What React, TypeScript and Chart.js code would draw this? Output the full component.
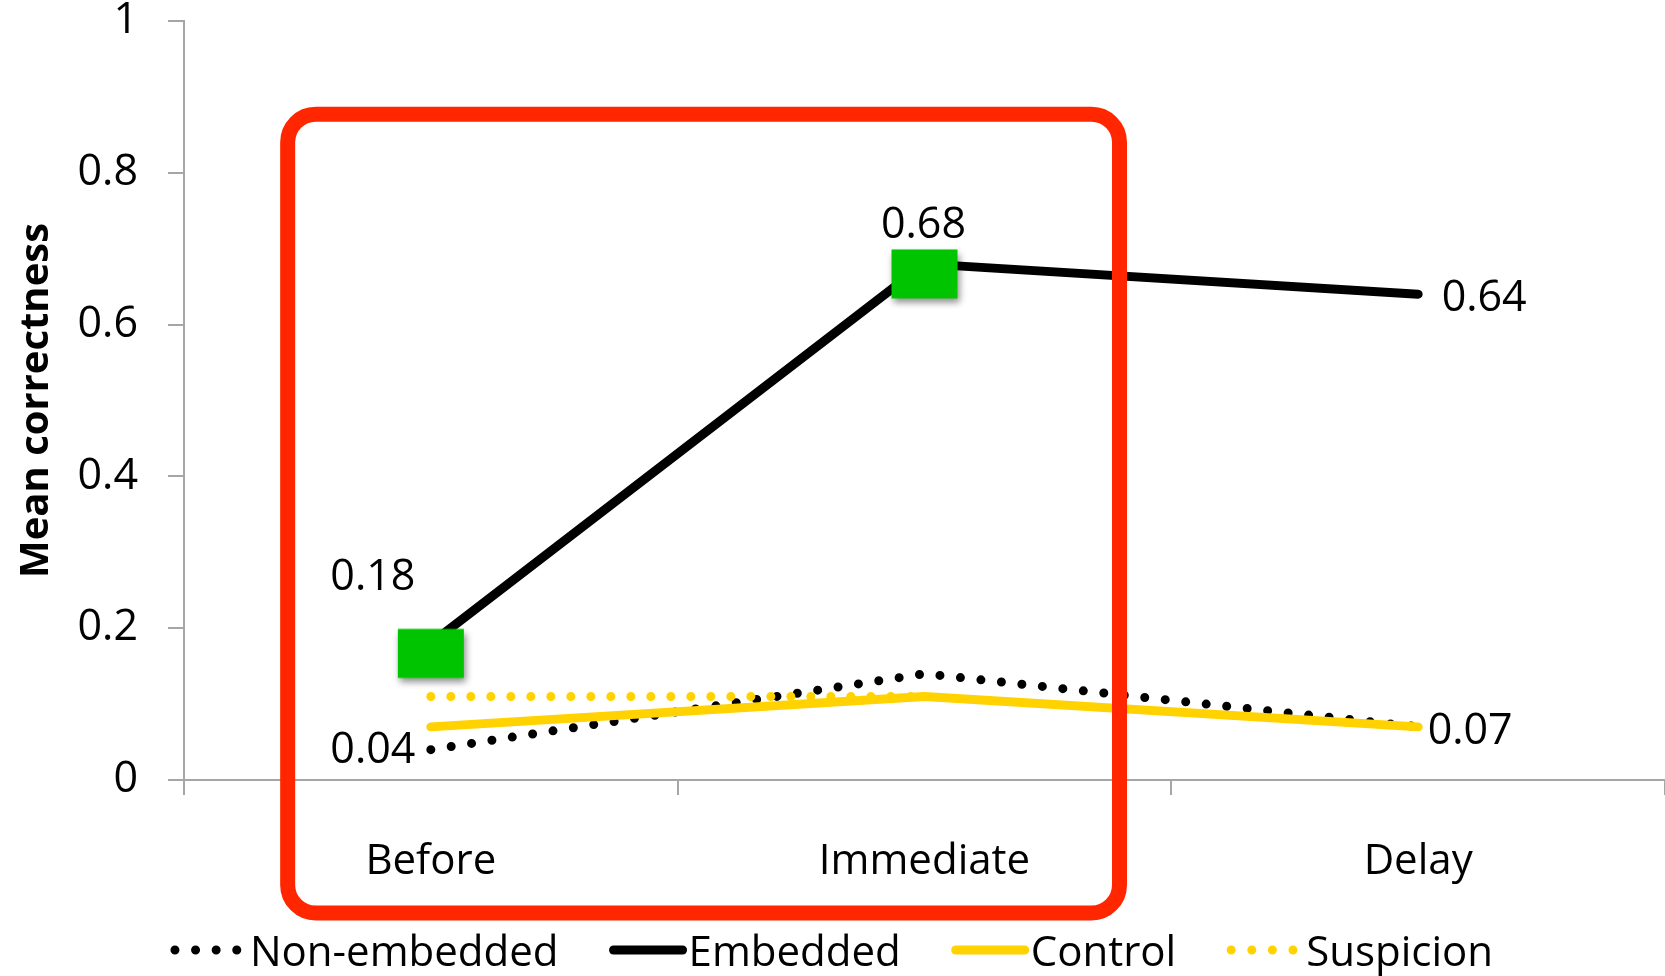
import React, { useEffect, useRef } from 'react';
import { Chart, registerables } from 'chart.js';

Chart.register(...registerables);

// ---- data ----
const categories = ['Before', 'Immediate', 'Delay'];
const seriesNames = ['Non-embedded', 'Embedded', 'Control', 'Suspicion'];
const nonEmbedded = [0.04, 0.14, 0.07];
const embedded = [0.18, 0.68, 0.64];
const control = [0.07, 0.11, 0.07];
const suspicion: (number | null)[] = [0.11, 0.11, null];
const yMin = 0;
const yMax = 1;
const yStep = 0.2;
const yTitle = 'Mean correctness';

// ---- styling ----
const FONT = '"Open Sans", "Noto Sans", sans-serif';
const BLACK = '#000000';
const YELLOW = '#FFD200';
const GREEN = '#00C400';
const RED = '#FF2600';
const AXIS = '#A6A6A6';
const W = 1665;
const H = 976;

// value labels: dataset index, point index, offset from the point
const valueLabels = [
  { ds: 1, i: 0, dx: -58, dy: -66 },
  { ds: 0, i: 0, dx: -58, dy: 1 },
  { ds: 1, i: 1, dx: -1, dy: -38 },
  { ds: 1, i: 2, dx: 66, dy: 5 },
  { ds: 2, i: 2, dx: 52, dy: 5 },
];

// legend sample styles, in legend order
const legendStyles = [
  { color: BLACK, dotted: true },
  { color: BLACK, dotted: false },
  { color: YELLOW, dotted: false },
  { color: YELLOW, dotted: true },
];

function makeMarker(): HTMLCanvasElement {
  const c = document.createElement('canvas');
  c.width = 90;
  c.height = 100;
  const g = c.getContext('2d')!;
  g.shadowColor = 'rgba(0,0,0,0.45)';
  g.shadowBlur = 7;
  g.shadowOffsetX = 2;
  g.shadowOffsetY = 4;
  g.fillStyle = GREEN;
  g.fillRect(12, 35.5, 66, 49);
  return c;
}

const valueLabelPlugin = {
  id: 'valueLabels',
  afterDatasetsDraw(chart: any) {
    const ctx = chart.ctx;
    ctx.save();
    ctx.font = `43px ${FONT}`;
    ctx.fillStyle = BLACK;
    ctx.textAlign = 'center';
    ctx.textBaseline = 'middle';
    const all = [nonEmbedded, embedded, control, suspicion];
    valueLabels.forEach((l) => {
      const pt = chart.getDatasetMeta(l.ds).data[l.i];
      const v = all[l.ds][l.i] as number;
      ctx.fillText(v.toFixed(2), pt.x + l.dx, pt.y + l.dy);
    });
    ctx.restore();
  },
};

const highlightPlugin = {
  id: 'highlightBox',
  afterDraw(chart: any) {
    const { ctx, chartArea, scales } = chart;
    const bin = (chartArea.right - chartArea.left) / categories.length;
    const left = scales.x.getPixelForValue(0) - 0.29 * bin;
    const right = scales.x.getPixelForValue(1) + 0.395 * bin;
    const top = scales.y.getPixelForValue(0.877);
    const bottom = chartArea.bottom + 133;
    ctx.save();
    ctx.strokeStyle = RED;
    ctx.lineWidth = 15;
    ctx.beginPath();
    ctx.roundRect(left, top, right - left, bottom - top, 28);
    ctx.stroke();
    ctx.restore();
  },
};

const legendPlugin = {
  id: 'lineLegend',
  afterDraw(chart: any) {
    const ctx = chart.ctx;
    ctx.save();
    ctx.font = `42px ${FONT}`;
    const sampleW = 74;
    const textGap = 4;
    const itemGap = 52;
    const widths = seriesNames.map((n) => sampleW + textGap + ctx.measureText(n).width);
    const total = widths.reduce((a, b) => a + b, 0) + itemGap * (seriesNames.length - 1);
    let x = (chart.width - total) / 2;
    const y = 954;
    seriesNames.forEach((name, k) => {
      const st = legendStyles[k];
      ctx.strokeStyle = st.color;
      ctx.lineWidth = 9;
      ctx.lineCap = 'round';
      ctx.beginPath();
      if (st.dotted) {
        ctx.setLineDash([0, 20.6]);
        ctx.moveTo(x + 3, y - 4);
        ctx.lineTo(x + 3 + 61.8, y - 4);
      } else {
        ctx.setLineDash([]);
        ctx.moveTo(x + 3, y - 4);
        ctx.lineTo(x + sampleW - 2, y - 4);
      }
      ctx.stroke();
      ctx.setLineDash([]);
      ctx.fillStyle = BLACK;
      ctx.textAlign = 'left';
      ctx.textBaseline = 'middle';
      ctx.fillText(name, x + sampleW + textGap, y);
      x += widths[k] + itemGap;
    });
    ctx.restore();
  },
};

export default function App() {
  const ref = useRef<HTMLCanvasElement | null>(null);

  useEffect(() => {
    if (!ref.current) return;
    const marker = makeMarker();
    Chart.defaults.font.family = FONT;
    Chart.defaults.color = BLACK;

    const chart = new Chart(ref.current, {
      type: 'line',
      data: {
        labels: categories,
        datasets: [
          {
            label: seriesNames[0],
            data: nonEmbedded,
            borderColor: BLACK,
            borderWidth: 9,
            borderDash: [0, 20.6],
            borderCapStyle: 'round',
            pointRadius: 0,
            order: 4,
          },
          {
            label: seriesNames[1],
            data: embedded,
            borderColor: BLACK,
            borderWidth: 9,
            borderCapStyle: 'round',
            borderJoinStyle: 'round',
            pointStyle: marker as any,
            pointRadius: [6, 6, 0],
            pointBorderWidth: 0,
            order: 3,
          },
          {
            label: seriesNames[2],
            data: control,
            borderColor: YELLOW,
            borderWidth: 9,
            borderCapStyle: 'round',
            borderJoinStyle: 'round',
            pointRadius: 0,
            order: 2,
          },
          {
            label: seriesNames[3],
            data: suspicion,
            borderColor: YELLOW,
            borderWidth: 9,
            borderDash: [0, 20],
            borderCapStyle: 'round',
            pointRadius: 0,
            order: 1,
          },
        ] as any,
      },
      options: {
        responsive: false,
        devicePixelRatio: 1,
        animation: false,
        events: [],
        layout: { autoPadding: false, padding: { top: 21, bottom: 56, left: 0, right: 0 } },
        plugins: {
          legend: { display: false },
          tooltip: { enabled: false },
          title: { display: false },
        },
        scales: {
          x: {
            offset: true,
            grid: {
              offset: true,
              drawOnChartArea: false,
              drawTicks: true,
              tickLength: 15,
              color: AXIS,
              lineWidth: 2,
            },
            border: { display: true, color: AXIS, width: 2 },
            ticks: {
              padding: 42,
              font: { size: 42, family: FONT, lineHeight: 1.2 },
              color: BLACK,
              maxRotation: 0,
            },
            afterFit: (s: any) => {
              s.height = 140;
              s.paddingLeft = 0;
              s.paddingRight = 0;
            },
          },
          y: {
            min: yMin,
            max: yMax,
            grid: {
              drawOnChartArea: false,
              drawTicks: true,
              tickLength: 16,
              color: AXIS,
              lineWidth: 2,
            },
            border: { display: true, color: AXIS, width: 2 },
            ticks: {
              stepSize: yStep,
              padding: 30,
              font: { size: 43, family: FONT, lineHeight: 1 },
              color: BLACK,
              callback: (v: any) => String(Math.round(Number(v) * 10) / 10),
            },
            title: {
              display: true,
              text: yTitle,
              color: BLACK,
              font: { size: 40, weight: 'bold', family: FONT, lineHeight: 1.2 },
              padding: { top: 13, bottom: 0 },
            },
            afterFit: (s: any) => {
              s.width = 184;
              s.paddingTop = 0;
              s.paddingBottom = 0;
            },
          },
        },
      } as any,
      plugins: [valueLabelPlugin, highlightPlugin, legendPlugin],
    });

    return () => chart.destroy();
  }, []);

  return (
    <div style={{ position: 'absolute', left: 0, top: 0, width: W, height: H, background: '#fff' }}>
      <canvas ref={ref} width={W} height={H} style={{ display: 'block', width: W, height: H }} />
    </div>
  );
}
